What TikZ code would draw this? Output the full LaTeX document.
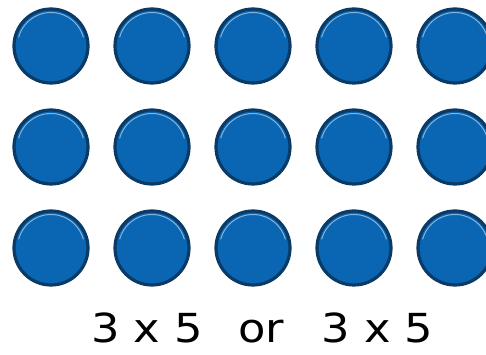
\documentclass[tikz,border=0pt]{standalone}
\usepackage{fontspec}
\newfontfamily\eqfont[FakeStretch=1.12]{DejaVu Sans}
\definecolor{btnblue}{HTML}{0A66B2}
\definecolor{btnedge}{HTML}{0A3A66}
\definecolor{btnshine}{HTML}{B8D4EE}

\begin{document}
\begin{tikzpicture}[x=1pt, y=1pt,
    counter/.style={circle, fill=btnblue, draw=btnedge, line width=3.2pt,
                    minimum size=74pt, inner sep=0pt},
    eqtext/.style={font=\eqfont\fontsize{40}{48}\selectfont, anchor=base, inner sep=0pt}]

        \useasboundingbox (0,0) rectangle (486,355);
        \clip (0,0) rectangle (486,355);

        % 1. 3 rows x 5 columns of counters
        \foreach \r in {1,2,3}
            \foreach \c in {1,...,5}
            {
                \node[counter] (c-\r-\c) at ({51+101*(\c-1)}, {309-101*(\r-1)}) {};
                % shine along the top rim
                \draw[btnshine, line width=1pt, opacity=0.7]
                    ([shift={(165:33.5)}]c-\r-\c.center) arc (165:15:33.5);
            }

        % 2. the two products
        \node[eqtext] (lhs) at (147,12.3) {3 x 5};
        \node[eqtext] (or)  at (261,12.3) {or};
        \node[eqtext] (rhs) at (377.3,12.3) {3 x 5};
\end{tikzpicture}
\end{document}
